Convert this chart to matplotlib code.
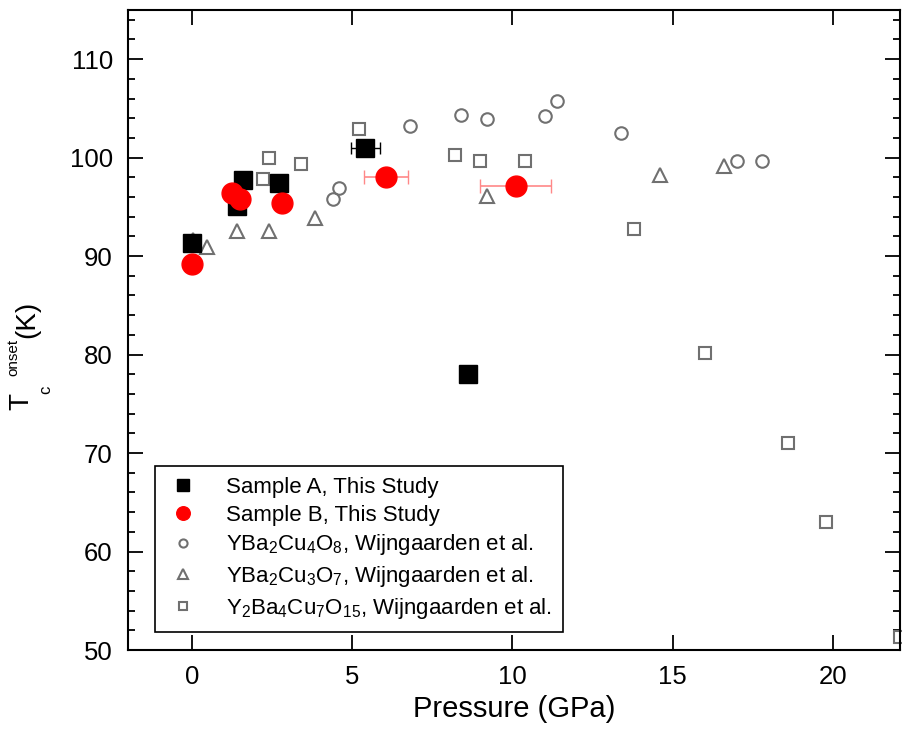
import matplotlib
matplotlib.use("Agg")
import matplotlib.pyplot as plt
from matplotlib.ticker import MultipleLocator

plt.rcParams['font.family'] = ['Liberation Sans', 'DejaVu Sans']
plt.rcParams['mathtext.default'] = 'regular'

# Sample A, this study
a_p = [0.0, 1.4, 1.6, 2.7, 5.4, 8.6]
a_t = [91.3, 95.1, 97.7, 97.4, 101.0, 78.0]
a_err = [0, 0, 0, 0, 0.45, 0]

# Sample B, this study
b_p = [0.0, 1.25, 1.5, 2.8, 6.05, 10.1]
b_t = [89.2, 96.4, 95.8, 95.4, 98.0, 97.1]
b_err = [0, 0, 0, 0, 0.7, 1.1]

# YBa2Cu4O8 (Wijngaarden et al.)
c_p = [4.4, 4.6, 6.8, 8.4, 9.2, 11.0, 11.4, 13.4, 17.0, 17.8]
c_t = [95.8, 96.9, 103.2, 104.3, 103.9, 104.2, 105.8, 102.5, 99.7, 99.7]

# YBa2Cu3O7 (Wijngaarden et al.)
t_p = [0.03, 0.47, 1.4, 2.4, 3.85, 9.2, 14.6, 16.6]
t_t = [91.6, 90.9, 92.6, 92.6, 93.9, 96.1, 98.2, 99.1]

# Y2Ba4Cu7O15 (Wijngaarden et al.)
s_p = [2.2, 2.4, 3.4, 5.2, 8.2, 9.0, 10.4, 13.8, 16.0, 18.6, 19.8, 22.1]
s_t = [97.8, 100.0, 99.4, 102.9, 100.3, 99.7, 99.7, 92.8, 80.2, 71.0, 63.0, 51.3]

gray = '#707070'

fig = plt.figure(figsize=(9.03, 7.40), dpi=100)
ax = fig.add_axes([0.1418, 0.1216, 0.855, 0.865])

hc, = ax.plot(c_p, c_t, 'o', ms=9, mfc='none', mec=gray, mew=1.5, ls='none', zorder=2)
ht, = ax.plot(t_p, t_t, '^', ms=10, mfc='none', mec=gray, mew=1.5, ls='none', zorder=2)
hs, = ax.plot(s_p, s_t, 's', ms=9, mfc='none', mec=gray, mew=1.5, ls='none',
              zorder=2, clip_on=False)

# error bars first, then markers on top
ax.errorbar(a_p, a_t, xerr=a_err, fmt='none', ecolor='black', elinewidth=1, capsize=4, zorder=3)
ha, = ax.plot(a_p, a_t, 's', ms=13, color='black', ls='none', zorder=3)
ax.errorbar(b_p, b_t, xerr=b_err, fmt='none', ecolor='#ff8888', elinewidth=1.2, capsize=5, zorder=4)
hb, = ax.plot(b_p, b_t, 'o', ms=15, color='#ff0000', ls='none', zorder=4)

ax.set_xlim(-2, 22.1)
ax.set_ylim(50, 115)
ax.set_xticks([0, 5, 10, 15, 20])
ax.set_yticks([50, 60, 70, 80, 90, 100, 110])
ax.yaxis.set_minor_locator(MultipleLocator(2))
ax.tick_params(which='both', direction='in', top=True, right=True, labelsize=18.5, width=1.3)
ax.tick_params(which='major', length=11)
ax.tick_params(which='minor', length=5)
ax.tick_params(axis='x', pad=11)
ax.tick_params(axis='y', pad=11)
for sp in ax.spines.values():
    sp.set_linewidth(1.5)

ax.set_xlabel('Pressure (GPa)', fontsize=21, labelpad=4)

# y label built from pieces: big T and (K), small subscript/superscript
fig.text(21 / 903, 1 - 401 / 740, 'T', fontsize=20, rotation=90, ha='center', va='center')
fig.text(46 / 903, 1 - 390 / 740, 'c', fontsize=12, rotation=90, ha='center', va='center')
fig.text(13 / 903, 1 - 357 / 740, 'onset', fontsize=11, rotation=90, ha='center', va='center')
fig.text(27 / 903, 1 - 319 / 740, '(K)', fontsize=20, rotation=90, ha='center', va='center')

labels = ['Sample A, This Study',
          'Sample B, This Study',
          r'YBa$_2$Cu$_4$O$_8$, Wijngaarden et al.',
          r'YBa$_2$Cu$_3$O$_7$, Wijngaarden et al.',
          r'Y$_2$Ba$_4$Cu$_7$O$_{15}$, Wijngaarden et al.']
leg = ax.legend([ha, hb, hc, ht, hs], labels,
                loc='upper left', bbox_to_anchor=(0.035, 0.2875), borderaxespad=0,
                fontsize=16, frameon=True, fancybox=False, edgecolor='black',
                framealpha=1, markerscale=0.65, handlelength=1.5,
                handletextpad=1.2, labelspacing=0.3, borderpad=0.5)
leg.get_frame().set_linewidth(1.2)

fig.savefig('out.png', dpi=100)
